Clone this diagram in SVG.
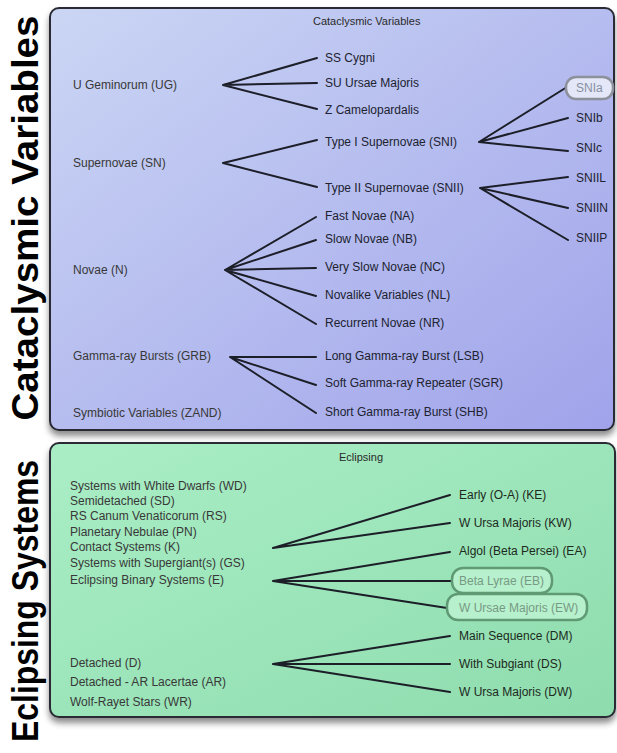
<svg xmlns="http://www.w3.org/2000/svg" width="617" height="753" viewBox="0 0 617 753">
<defs>
<linearGradient id="gBlue" x1="0" y1="0" x2="1" y2="1">
<stop offset="0" stop-color="#cbd6f4"/>
<stop offset="1" stop-color="#a0a3ea"/>
</linearGradient>
<linearGradient id="gGreen" x1="0" y1="0" x2="1" y2="1">
<stop offset="0" stop-color="#aaeec6"/>
<stop offset="1" stop-color="#8edcae"/>
</linearGradient>
<filter id="shadow" x="-5%" y="-5%" width="110%" height="115%">
<feDropShadow dx="0" dy="5" stdDeviation="3" flood-color="#000" flood-opacity="0.45"/>
</filter>
<style>
.panel{stroke:#2a2c34;stroke-width:2}
.big{font-family:"Liberation Sans",Arial,sans-serif;font-weight:bold;font-size:37px;fill:#000}
.title{font-family:"Liberation Sans",Arial,sans-serif;font-size:11px;fill:#2a2a2a}
.lbl{font-family:"Liberation Sans",Arial,sans-serif;font-size:12px;fill:#383838}
.rl{font-family:"Liberation Sans",Arial,sans-serif;font-size:12px;fill:#202230}
.rg{font-family:"Liberation Sans",Arial,sans-serif;font-size:12px;fill:#1c2a20}
.pillB{fill:#e3e7f7;stroke:#8d919c;stroke-width:2.5}
.pillG{fill:#b6f0cc;stroke:#5f9a74;stroke-width:2.5}
.pt{font-family:"Liberation Sans",Arial,sans-serif;font-size:12px;fill:#8890a2}
.ptg{font-family:"Liberation Sans",Arial,sans-serif;font-size:12px;fill:#789a84}
.ln{stroke:#1c1e28;stroke-width:2;fill:none;stroke-linecap:round}
</style>
</defs>
<rect width="617" height="753" fill="#ffffff"/>

<g id="side-titles">
<text class="big" transform="translate(38,218) rotate(-90)" text-anchor="middle" textLength="405" lengthAdjust="spacingAndGlyphs">Cataclysmic Variables</text>
<text class="big" transform="translate(38,601) rotate(-90)" text-anchor="middle" textLength="282" lengthAdjust="spacingAndGlyphs">Eclipsing Systems</text>
</g>

<g id="panel-cv">
<rect class="panel" x="50" y="8" width="564" height="422" rx="9" fill="url(#gBlue)" filter="url(#shadow)"/>
<text class="title" x="313" y="25">Cataclysmic Variables</text>
</g>
<g id="panel-ecl">
<rect class="panel" x="50" y="443" width="565" height="274" rx="9" fill="url(#gGreen)" filter="url(#shadow)"/>
<text class="title" x="339" y="461">Eclipsing</text>
</g>

<g id="connectors">
<path class="ln" d="M223 85 L317 58 M223 85 L317 83 M223 85 L317 109"/>
<path class="ln" d="M223 163 L317 140 M223 163 L317 187"/>
<path class="ln" d="M225 270 L316 217 M225 270 L316 240 M225 270 L316 268 M225 270 L316 296 M225 270 L316 324"/>
<path class="ln" d="M230 357 L316 357 M230 357 L316 385 M230 357 L316 413"/>
<path class="ln" d="M479 142 L567 87 M479 142 L568 118 M479 142 L568 151"/>
<path class="ln" d="M480 188 L568 177 M480 188 L568 208 M480 188 L568 240"/>
<path class="ln" d="M273 548 L450 495 M273 548 L450 523"/>
<path class="ln" d="M273 581 L450 552 M273 581 L452 581 M273 581 L447 608"/>
<path class="ln" d="M273 664 L450 636 M273 664 L450 664 M273 664 L450 692"/>
</g>

<g id="n-ug"><text class="lbl" x="73" y="89">U Geminorum (UG)</text></g>
<g id="n-sn"><text class="lbl" x="73" y="167">Supernovae (SN)</text></g>
<g id="n-n"><text class="lbl" x="73" y="274">Novae (N)</text></g>
<g id="n-grb"><text class="lbl" x="73" y="360">Gamma-ray Bursts (GRB)</text></g>
<g id="n-zand"><text class="lbl" x="73" y="417">Symbiotic Variables (ZAND)</text></g>

<g id="n-ss"><text class="rl" x="325" y="62">SS Cygni</text></g>
<g id="n-su"><text class="rl" x="325" y="87">SU Ursae Majoris</text></g>
<g id="n-z"><text class="rl" x="325" y="114">Z Camelopardalis</text></g>
<g id="n-sni"><text class="rl" x="325" y="146">Type I Supernovae (SNI)</text></g>
<g id="n-snii"><text class="rl" x="325" y="192">Type II Supernovae (SNII)</text></g>
<g id="n-na"><text class="rl" x="325" y="220">Fast Novae (NA)</text></g>
<g id="n-nb"><text class="rl" x="325" y="243">Slow Novae (NB)</text></g>
<g id="n-nc"><text class="rl" x="325" y="271">Very Slow Novae (NC)</text></g>
<g id="n-nl"><text class="rl" x="325" y="299">Novalike Variables (NL)</text></g>
<g id="n-nr"><text class="rl" x="325" y="327">Recurrent Novae (NR)</text></g>
<g id="n-lsb"><text class="rl" x="325" y="360">Long Gamma-ray Burst (LSB)</text></g>
<g id="n-sgr"><text class="rl" x="325" y="387">Soft Gamma-ray Repeater (SGR)</text></g>
<g id="n-shb"><text class="rl" x="325" y="416">Short Gamma-ray Burst (SHB)</text></g>

<g id="n-snia">
<rect class="pillB" x="566" y="77" width="47" height="22" rx="10"/>
<text class="pt" x="576" y="92">SNIa</text>
</g>
<g id="n-snib"><text class="rl" x="576" y="122">SNIb</text></g>
<g id="n-snic"><text class="rl" x="576" y="152">SNIc</text></g>
<g id="n-sniil"><text class="rl" x="576" y="182">SNIIL</text></g>
<g id="n-sniin"><text class="rl" x="576" y="212">SNIIN</text></g>
<g id="n-sniip"><text class="rl" x="576" y="242">SNIIP</text></g>

<g id="n-wd"><text class="lbl" x="70" y="490">Systems with White Dwarfs (WD)</text></g>
<g id="n-sd"><text class="lbl" x="70" y="505">Semidetached (SD)</text></g>
<g id="n-rs"><text class="lbl" x="70" y="520">RS Canum Venaticorum (RS)</text></g>
<g id="n-pn"><text class="lbl" x="70" y="536">Planetary Nebulae (PN)</text></g>
<g id="n-k"><text class="lbl" x="70" y="551">Contact Systems (K)</text></g>
<g id="n-gs"><text class="lbl" x="70" y="567">Systems with Supergiant(s) (GS)</text></g>
<g id="n-e"><text class="lbl" x="70" y="584">Eclipsing Binary Systems (E)</text></g>
<g id="n-d"><text class="lbl" x="70" y="667">Detached (D)</text></g>
<g id="n-ar"><text class="lbl" x="70" y="686">Detached - AR Lacertae (AR)</text></g>
<g id="n-wr"><text class="lbl" x="70" y="706">Wolf-Rayet Stars (WR)</text></g>

<g id="n-ke"><text class="rg" x="459" y="499">Early (O-A) (KE)</text></g>
<g id="n-kw"><text class="rg" x="459" y="527">W Ursa Majoris (KW)</text></g>
<g id="n-ea"><text class="rg" x="459" y="555">Algol (Beta Persei) (EA)</text></g>
<g id="n-eb">
<rect class="pillG" x="452" y="568" width="100" height="25" rx="11"/>
<text class="ptg" x="459" y="585">Beta Lyrae (EB)</text>
</g>
<g id="n-ew">
<rect class="pillG" x="447" y="594" width="140" height="26" rx="11"/>
<text class="ptg" x="459" y="612">W Ursae Majoris (EW)</text>
</g>
<g id="n-dm"><text class="rg" x="459" y="640">Main Sequence (DM)</text></g>
<g id="n-ds"><text class="rg" x="459" y="668">With Subgiant (DS)</text></g>
<g id="n-dw"><text class="rg" x="459" y="696">W Ursa Majoris (DW)</text></g>
</svg>
